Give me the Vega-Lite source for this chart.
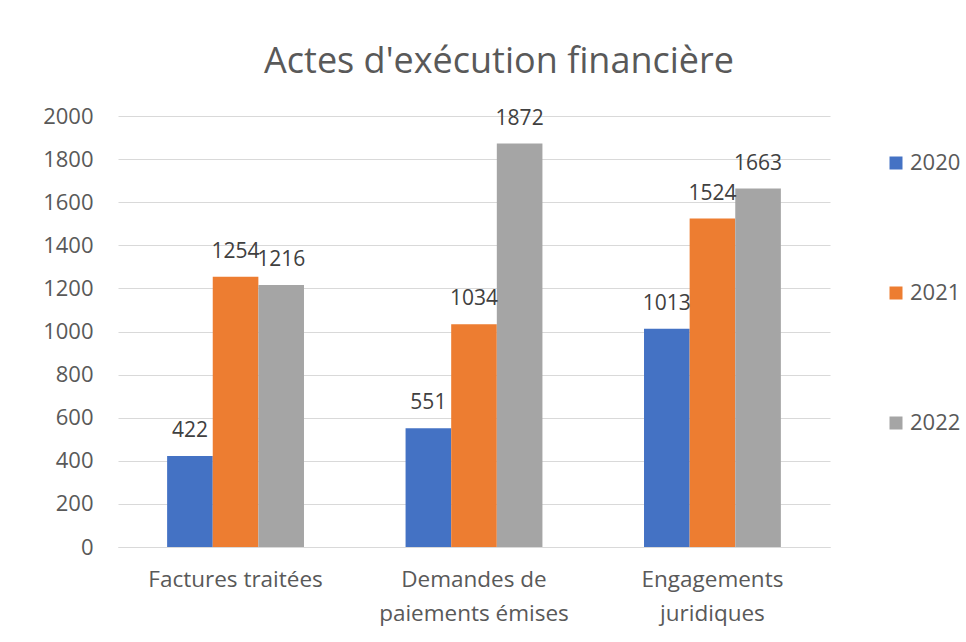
{
  "$schema": "https://vega.github.io/schema/vega-lite/v6.json",
  "autosize": {"type": "none"},
  "width": 712,
  "height": 431,
  "padding": {"left": 118, "top": 116, "right": 136, "bottom": 95},
  "background": "white",
  "config": {"font": "Open Sans", "view": {"stroke": null}},
  "title": {"text": "Actes d'exécution financière", "fontSize": 36, "fontWeight": "normal", "color": "#595959", "anchor": "middle", "dx": 25, "offset": 24},
  "data": {"values": [
    {"cat": "Factures traitées", "year": "2020", "value": 422},
    {"cat": "Factures traitées", "year": "2021", "value": 1254},
    {"cat": "Factures traitées", "year": "2022", "value": 1216},
    {"cat": "Demandes de paiements émises", "year": "2020", "value": 551},
    {"cat": "Demandes de paiements émises", "year": "2021", "value": 1034},
    {"cat": "Demandes de paiements émises", "year": "2022", "value": 1872},
    {"cat": "Engagements juridiques", "year": "2020", "value": 1013},
    {"cat": "Engagements juridiques", "year": "2021", "value": 1524},
    {"cat": "Engagements juridiques", "year": "2022", "value": 1663}
  ]},
  "encoding": {
    "x": {"field": "cat", "type": "nominal", "sort": null,
      "scale": {"paddingInner": 0.426, "paddingOuter": 0.206},
      "axis": {"title": null, "labelAngle": 0, "ticks": false, "domainColor": "#d9d9d9", "labelColor": "#595959", "labelFontSize": 22.5, "labelPadding": 21, "labelLineHeight": 34, "labelLimit": 0,
        "labelExpr": "datum.label == 'Demandes de paiements émises' ? ['Demandes de', 'paiements émises'] : datum.label == 'Engagements juridiques' ? ['Engagements', 'juridiques'] : datum.label"}},
    "xOffset": {"field": "year", "type": "nominal", "scale": {"paddingInner": 0}},
    "y": {"field": "value", "type": "quantitative",
      "scale": {"domain": [0, 2000]},
      "axis": {"title": null, "values": [0,200,400,600,800,1000,1200,1400,1600,1800,2000], "format": "d", "domain": false, "ticks": false, "gridColor": "#d9d9d9", "labelColor": "#595959", "labelFontSize": 22, "labelPadding": 25}}
  },
  "layer": [
    {"mark": {"type": "bar"},
     "encoding": {"color": {"field": "year", "type": "nominal",
       "scale": {"domain": ["2020", "2021", "2022"], "range": ["#4472C4", "#ED7D31", "#A5A5A5"]},
       "legend": {"title": null, "orient": "none", "legendX": 767, "legendY": 36, "symbolType": "square", "symbolSize": 169, "symbolStrokeWidth": 0, "labelFontSize": 22, "labelColor": "#595959", "rowPadding": 108, "labelOffset": 3}}}},
    {"mark": {"type": "text", "baseline": "alphabetic", "dy": -19, "fontSize": 21, "color": "#404040"},
     "encoding": {"text": {"field": "value", "type": "quantitative"}}}
  ]
}
